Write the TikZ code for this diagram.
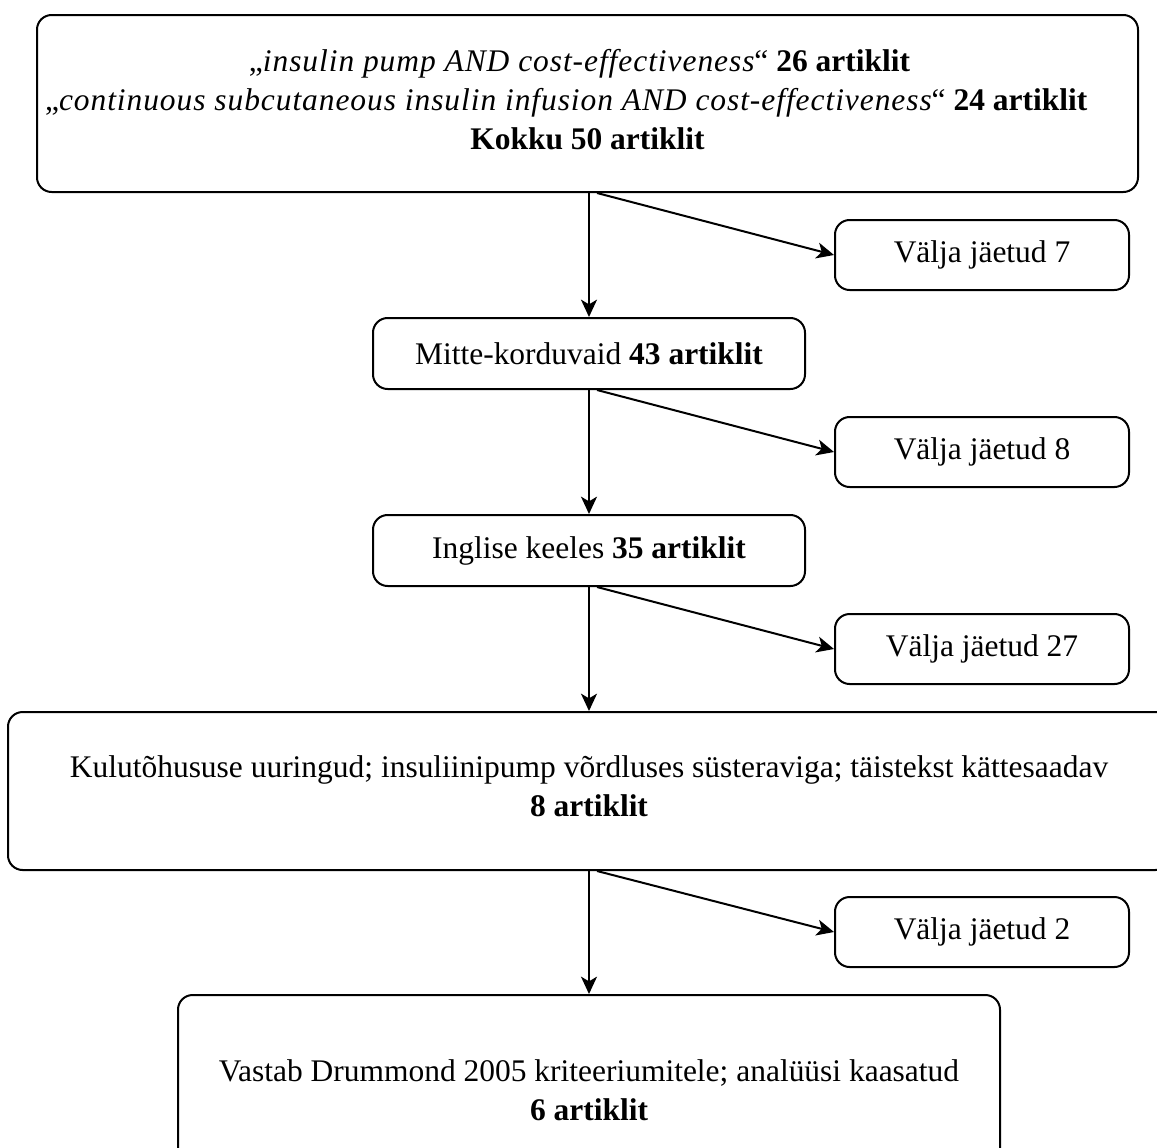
\documentclass[tikz,border=0pt]{standalone}
\usepackage{fontspec}
\setmainfont{Liberation Serif}
\usetikzlibrary{positioning,arrows.meta}

\newcommand{\query}[1]{{\itshape\addfontfeature{LetterSpace=3}#1}}

\begin{document}
\begin{tikzpicture}[
  x=0.75pt, y=-0.75pt,
  font=\fontsize{23.6}{29.3}\selectfont,
  line width=1.5pt,
  box/.style={draw, rounded corners=11pt, align=center, inner sep=2pt},
  side/.style={box, minimum width=220.5pt, minimum height=52.5pt},
  mid/.style={box, minimum width=324pt, minimum height=53.25pt},
  >={Stealth[length=13pt,width=12pt,inset=3.5pt]}
]
\path[use as bounding box, fill=white] (0,0) rectangle (1157,1147);

\node[box, minimum width=825.75pt, minimum height=132.75pt, text depth=6pt] (search) at (587.5,103.5)
  {\mbox{„\query{insulin pump AND cost-effectiveness}“ \textbf{26 artiklit}\hspace{12pt}}\\
   \mbox{„\query{continuous subcutaneous insulin infusion AND cost-effectiveness}“ \textbf{24 artiklit}\hspace{32pt}}\\
   \textbf{Kokku 50 artiklit}};
\node[side] (out1) at (982,255) {Välja jäetud 7};
\node[mid] (unique) at (589,353.5) {Mitte-korduvaid \textbf{43 artiklit}};
\node[side] (out2) at (982,452) {Välja jäetud 8};
\node[mid] (english) at (589,550.5) {Inglise keeles \textbf{35 artiklit}};
\node[side] (out3) at (982,649) {Välja jäetud 27};
\node[box, minimum width=871.5pt, minimum height=118.5pt, text depth=7pt] (costeff) at (589,791)
  {Kulutõhususe uuringud; insuliinipump võrdluses süsteraviga; täistekst kättesaadav\\
   \textbf{8 artiklit}};
\node[side] (out4) at (982,932) {Välja jäetud 2};
\node[box, minimum width=616.5pt, minimum height=142.5pt] (final) at (589,1090)
  {Vastab Drummond 2005 kriteeriumitele; analüüsi kaasatud\\
   \textbf{6 artiklit}};

% main chain
\draw[->] (unique.north |- search.south) -- (unique.north);
\draw[->] (unique.south) -- (english.north);
\draw[->] (english.south) -- (costeff.north);
\draw[->] (costeff.south) -- (final.north);

% excluded branches
\draw[->] ([xshift=6pt]unique.north |- search.south) -- (out1.west);
\draw[->] ([xshift=6pt]unique.south) -- (out2.west);
\draw[->] ([xshift=6pt]english.south) -- (out3.west);
\draw[->] ([xshift=6pt]costeff.south) -- (out4.west);
\end{tikzpicture}
\end{document}
